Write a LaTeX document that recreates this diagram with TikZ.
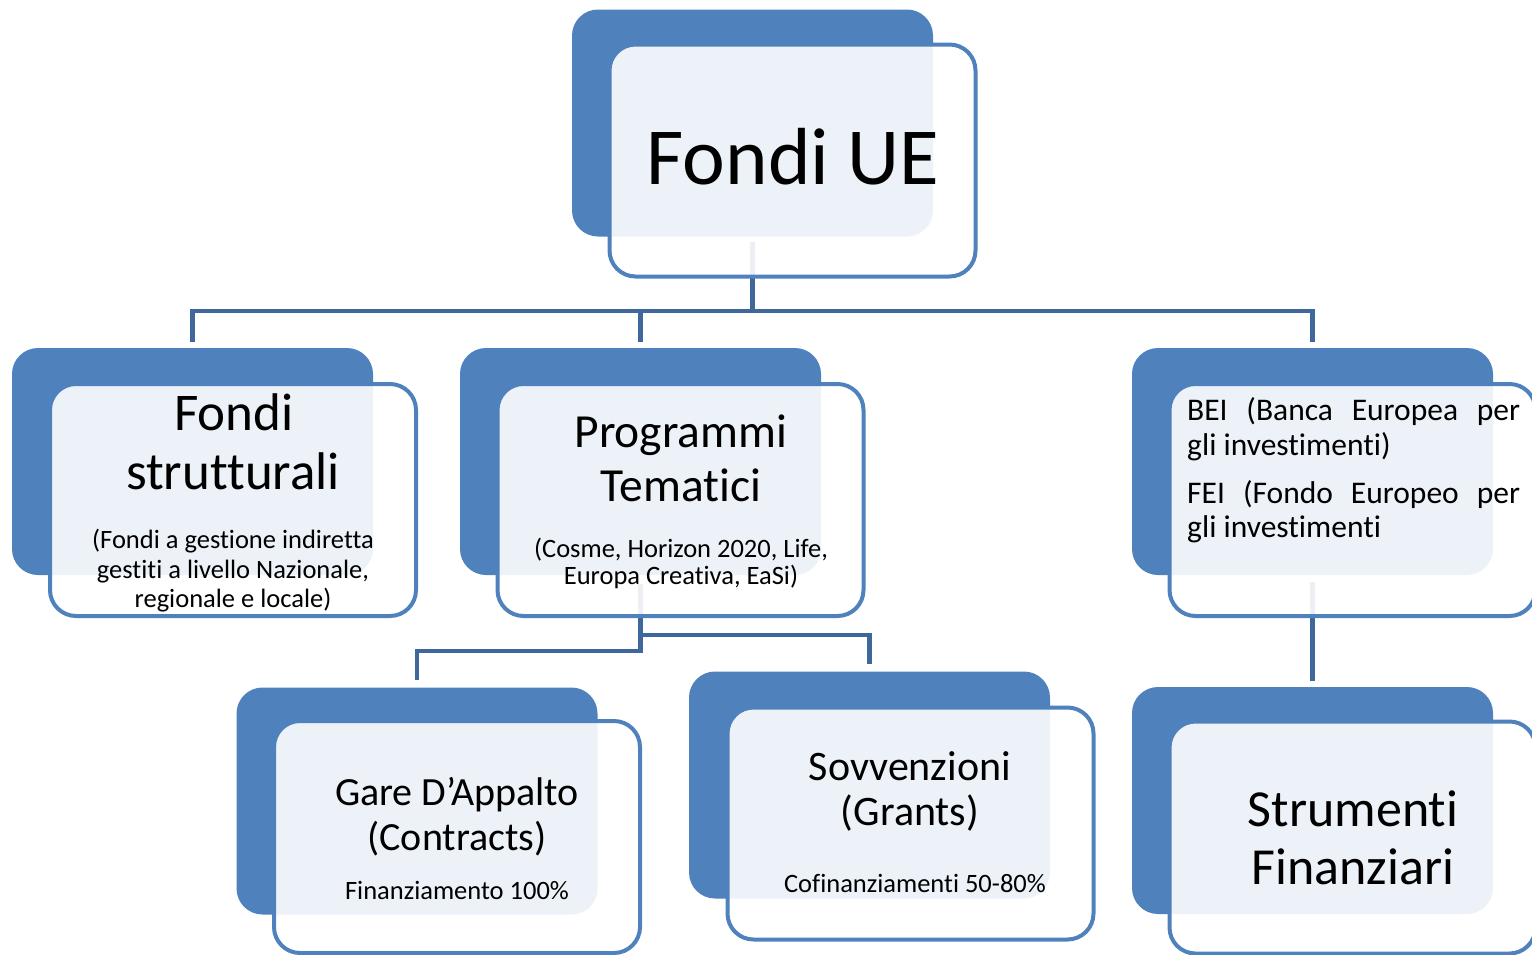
\documentclass[tikz,border=0pt]{standalone}
\usepackage{fontspec}
\setmainfont{Carlito}[Ligatures={NoCommon,NoContextual,NoRequired},Contextuals={NoAlternate}]
\usetikzlibrary{calc}
\definecolor{boxblue}{RGB}{79,129,189}
\definecolor{connblue}{RGB}{62,104,156}
\newcommand{\fsz}[1]{\fontsize{#1}{#1}\selectfont}
\tikzset{
  backbox/.style={draw=none, fill=boxblue, rounded corners=26pt, minimum width=361pt, minimum height=227pt, inner sep=0pt},
  frontbox/.style={draw=boxblue, line width=4pt, fill=white, fill opacity=0.9, rounded corners=26pt, minimum width=366pt, minimum height=232pt, inner sep=0pt},
  conn/.style={draw=connblue, line width=4.5pt},
  lbl/.style={anchor=base, inner sep=0pt, text=black},
}
\begin{document}
\begin{tikzpicture}[x=1pt,y=-1pt]
\useasboundingbox (0,0) rectangle (1532,954);
% back boxes
\node[backbox] (ueb) at (752.5,123) {};
\node[backbox] (fsb) at (192.5,461.5) {};
\node[backbox] (ptb) at (640.5,461.5) {};
\node[backbox] (bib) at (1312.5,461.5) {};
\node[backbox] (gab) at (417,801) {};
\node[backbox] (svb) at (869.5,785) {};
\node[backbox] (stb) at (1312.5,800.5) {};
% bus levels
\coordinate (bus) at (0,311);
\coordinate (busL) at (0,651);
\coordinate (busR) at (0,635);
% connectors
\draw[conn] ($(ueb.south)+(0,5)$) -- (ueb.south |- bus);
\draw[conn] ($(fsb.north)+(0,-6)$) |- (bib.north |- bus) -- ($(bib.north)+(0,-6)$);
\draw[conn] ($(ptb.north)+(0,-6)$) -- (ptb.north |- bus);
\draw[conn] ($(ptb.south)+(0,9)$) -- (ptb.south |- busL) -| ($(gab.north)+(0,-7)$);
\draw[conn] (ptb.south |- busR) -| ($(svb.north)+(0,-7)$);
\draw[conn] ($(bib.south)+(0,7)$) -- ($(stb.north)+(0,-6)$);
% front boxes
\node[frontbox] (uef) at (792.5,160.5) {};
\node[frontbox] (fsf) at (233,500) {};
\node[frontbox] (ptf) at (680.5,500) {};
\node[frontbox] (bif) at (1352.5,500) {};
\node[frontbox] (gaf) at (457,837) {};
\node[frontbox] (svf) at (910.5,823.5) {};
\node[frontbox] (stf) at (1352.5,837.5) {};
% texts
\node[lbl, font=\fsz{81}] (t-ue) at (793,184) {Fondi UE};
\node[lbl, font=\fsz{53}] (t-fs1) at (234,430) {Fondi};
\node[lbl, font=\fsz{53}] (t-fs2) at (233,489) {strutturali};
\node[lbl, font=\fsz{26.5}] (t-fs3) at (233,548) {(Fondi a gestione indiretta};
\node[lbl, font=\fsz{26.5}] (t-fs4) at (233,578) {gestiti a livello Nazionale,};
\node[lbl, font=\fsz{26.5}] (t-fs5) at (233,607) {regionale e locale)};
\node[lbl, font=\fsz{47.5}] (t-pt1) at (681,447) {Programmi};
\node[lbl, font=\fsz{47.5}] (t-pt2) at (681,501) {Tematici};
\node[lbl, font=\fsz{26.5}] (t-pt3) at (681,557) {(Cosme, Horizon 2020, Life,};
\node[lbl, font=\fsz{26.5}] (t-pt4) at (681,584) {Europa Creativa, EaSi)};
\node[lbl, anchor=base west, font=\fsz{31.5}] (t-bi1) at (1187,420) {\makebox[333pt][s]{BEI (Banca Europea per}};
\node[lbl, anchor=base west, font=\fsz{31.5}] (t-bi2) at (1187,455) {gli investimenti)};
\node[lbl, anchor=base west, font=\fsz{31.5}] (t-bi3) at (1187,503) {\makebox[333pt][s]{FEI (Fondo Europeo per}};
\node[lbl, anchor=base west, font=\fsz{31.5}] (t-bi4) at (1187,537) {gli investimenti};
\node[lbl, font=\fsz{40}] (t-ga1) at (457,805) {Gare D’Appalto};
\node[lbl, font=\fsz{40}] (t-ga2) at (457,850) {(Contracts)};
\node[lbl, font=\fsz{26.5}] (t-ga3) at (457,899) {Finanziamento 100\%};
\node[lbl, font=\fsz{42}] (t-sv1) at (910,780) {Sovvenzioni};
\node[lbl, font=\fsz{42}] (t-sv2) at (910,825) {(Grants)};
\node[lbl, font=\fsz{26.5}] (t-sv3) at (915,892) {Cofinanziamenti 50-80\%};
\node[lbl, font=\fsz{52}] (t-st1) at (1353,826) {Strumenti};
\node[lbl, font=\fsz{52}] (t-st2) at (1353,884) {Finanziari};
\end{tikzpicture}
\end{document}
